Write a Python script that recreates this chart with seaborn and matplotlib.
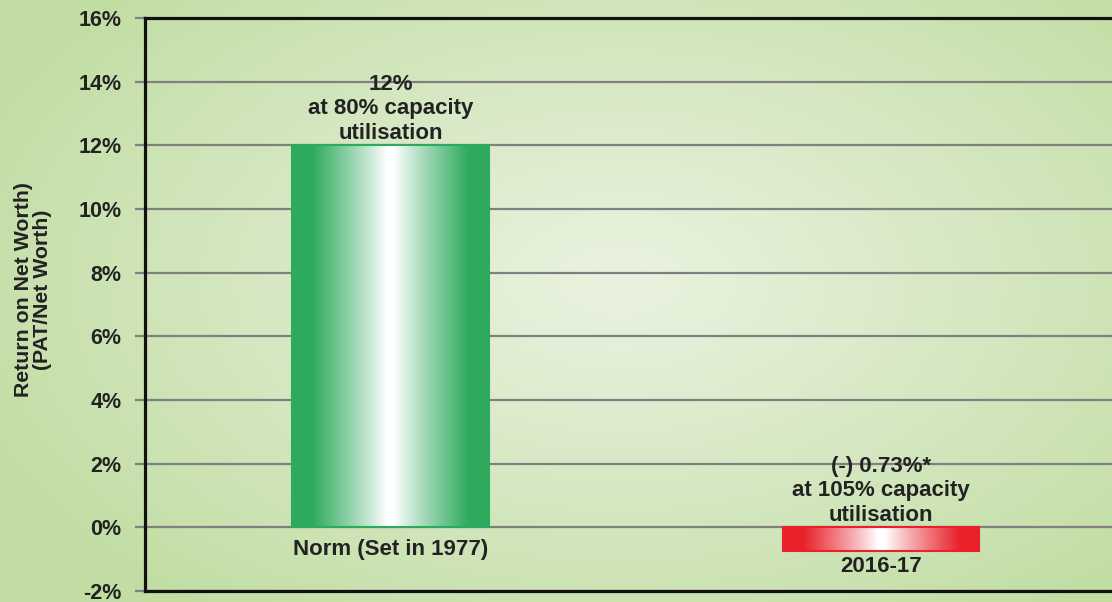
import numpy as np
import pandas as pd
import matplotlib
matplotlib.use('Agg')
import matplotlib.pyplot as plt
import matplotlib.transforms as mtransforms
import seaborn as sns
from matplotlib.colors import to_rgb

# data
categories = ['Norm (Set in 1977)', '2016-17']
values = [12, -0.73]
notes = ['12%\nat 80% capacity\nutilisation',
         '(-) 0.73%*\nat 105% capacity\nutilisation']
bar_colors = ['#2eaa5e', '#e8212a']
y_ticks = [-2, 0, 2, 4, 6, 8, 10, 12, 14, 16]
y_ticklabels = ['-2%', '0%', '2%', '4%', '6%', '8%', '10%', '12%', '14%', '16%']
y_label = 'Return on Net Worth)\n(PAT/Net Worth)'

sns.set_theme(style='white')
plt.rcParams['font.family'] = ['Liberation Sans', 'DejaVu Sans']
plt.rcParams['font.weight'] = 'bold'
txt_color = '#222222'

W, H = 1112, 602
fig = plt.figure(figsize=(W / 100, H / 100), dpi=100)

# radial background
bg = fig.add_axes([0, 0, 1, 1], zorder=-1)
yy, xx = np.mgrid[0:H, 0:W]
r = np.sqrt(((xx - 620) / 700.0) ** 2 + ((yy - 280) / 420.0) ** 2)
r = np.clip(r, 0, 1) ** 1.1
c_in = np.array(to_rgb('#e9f2df'))
c_out = np.array(to_rgb('#c1dda3'))
bg.imshow(c_in + (c_out - c_in) * r[..., None], aspect='auto')
bg.axis('off')

ax = fig.add_axes([145 / W, 11 / H, 1 - 145 / W, 573 / H])
ax.patch.set_alpha(0)

df = pd.DataFrame({'category': categories, 'value': values})
sns.barplot(data=df, x='category', y='value', hue='category', palette=bar_colors,
            width=0.4, saturation=1, legend=False, ax=ax, zorder=3)

# gradient fill for each bar
for patch, col in zip(ax.patches, bar_colors):
    x0, w = patch.get_x(), patch.get_width()
    y0, h = patch.get_y(), patch.get_height()
    t = np.abs(np.linspace(-1, 1, 400))
    f = np.clip((t - 0.04) / 0.76, 0, 1) ** 0.9
    c = np.array(to_rgb(col))
    grad = np.ones(3) * (1 - f[:, None]) + c * f[:, None]
    ax.imshow(grad[None, :, :], extent=[x0, x0 + w, min(y0, y0 + h), max(y0, y0 + h)],
              aspect='auto', zorder=3, interpolation='bilinear')
    patch.set_facecolor('none')
    patch.set_edgecolor(col)
    patch.set_linewidth(1.5)
    patch.set_zorder(4)

ax.set_xlim(-0.5, 1.47)
ax.set_ylim(-2, 16)

# annotations
for i, (v, note, cat) in enumerate(zip(values, notes, categories)):
    top = max(v, 0)
    bot = min(v, 0)
    off_up = mtransforms.offset_copy(ax.transData, fig=fig, x=0, y=1.5, units='dots')
    ax.text(i, top, note, transform=off_up, ha='center', va='bottom', fontsize=16,
            color=txt_color, fontweight='bold', linespacing=1.22, zorder=5)
    dn = -12 if v >= 0 else -5
    off_dn = mtransforms.offset_copy(ax.transData, fig=fig, x=0, y=dn, units='dots')
    ax.text(i, bot, cat, transform=off_dn, ha='center', va='top', fontsize=16,
            color=txt_color, fontweight='bold', zorder=5)

ax.set_xticks([])
ax.set_xlabel('')
ax.set_ylabel('')
ax.set_yticks(y_ticks)
ax.set_yticklabels(y_ticklabels)
ax.tick_params(axis='y', left=True, length=7, width=1.6, color='#808080', pad=10,
               labelsize=15.5, labelcolor=txt_color)
ax.yaxis.grid(True, color='#808080', linewidth=1.6)
ax.set_axisbelow(True)

for s in ['left', 'top', 'bottom']:
    ax.spines[s].set_color('#111111')
    ax.spines[s].set_linewidth(2.3)
ax.spines['right'].set_visible(False)

fig.text(33 / W, 1 - 290 / H, y_label, rotation=90, ha='center', va='center',
         multialignment='center', fontsize=15.3, color=txt_color, fontweight='bold',
         linespacing=1.0)

fig.savefig('out.png', dpi=100)
